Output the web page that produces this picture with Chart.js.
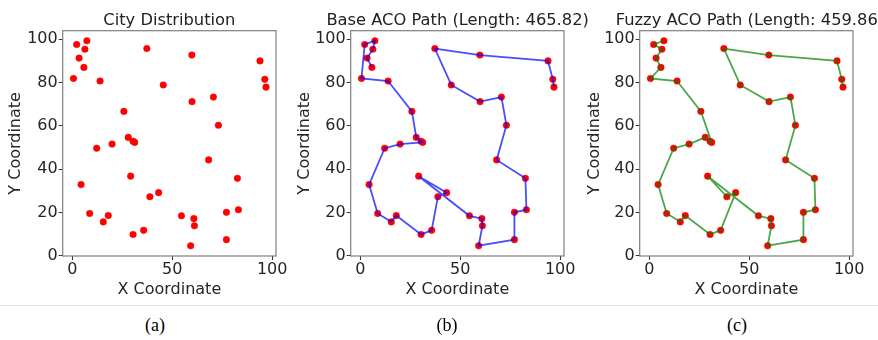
<!DOCTYPE html>
<html><head><meta charset="utf-8">
<script src="https://cdn.jsdelivr.net/npm/chart.js@4/dist/chart.umd.min.js"></script>
<style>
html,body{margin:0;padding:0;background:#fff;overflow:hidden;}
#fig{position:relative;width:878px;height:340px;overflow:hidden;background:#fff;}
#fig canvas{position:absolute;top:0;}
.ttl{position:absolute;top:11.5px;font-family:"DejaVu Sans";font-size:16.3px;line-height:16px;color:#222;white-space:nowrap;transform:translateX(-50%);z-index:2;}
.cap{position:absolute;top:316px;font-family:"Liberation Serif";font-size:18px;line-height:18px;color:#000;transform:translateX(-50%);}
#sep{position:absolute;left:0;width:878px;top:305px;height:1px;background:#e6e6e6;}
</style></head>
<body><div id="fig">
<canvas id="c0" width="290" height="300"></canvas>
<canvas id="c1" width="290" height="300"></canvas>
<canvas id="c2" width="290" height="300"></canvas>
<div id="sep"></div>
</div>
<script>
// ---- data ----
const cityX = [2.2, 7.3, 6.3, 3.4, 5.8, 0.6, 13.9, 37.3, 59.8, 93.9,
               96.3, 96.9, 45.5, 59.9, 70.6, 73.1, 25.8, 28.0, 30.4, 31.2,
               19.9, 12.2, 68.2, 82.6, 29.2, 4.4, 38.8, 43.2, 8.7, 18.0,
               15.5, 54.6, 60.8, 61.1, 77.1, 83.1, 30.4, 35.7, 59.2, 77.1];
const cityY = [97.5, 99.2, 95.3, 91.2, 86.9, 81.8, 80.6, 95.6, 92.6, 89.9,
               81.4, 77.8, 78.8, 71.1, 73.2, 60.2, 66.6, 54.6, 52.8, 52.3,
               51.5, 49.6, 44.2, 35.7, 36.7, 32.8, 27.2, 29.1, 19.5, 18.5,
               15.6, 18.4, 17.1, 13.8, 20.0, 21.2, 9.8, 11.7, 4.6, 7.4];
// visiting order (city indices) of each tour
const basePath  = [11,10,9,8,7,12,13,14,15,22,23,35,34,39,38,33,32,31,24,27,26,37,36,29,30,28,25,21,20,19,18,17,16,6,5,0,1,2,3,4];
const fuzzyPath = [11,10,9,8,7,12,13,14,15,22,23,35,34,39,38,33,32,31,24,26,27,37,36,29,30,28,25,21,20,17,18,19,16,6,5,4,3,2,0,1];
const xTicks = [0, 50, 100];
const yTicks = [0, 20, 40, 60, 80, 100];
const panelTitles = ["City Distribution", "Base ACO Path (Length: 465.82)", "Fuzzy ACO Path (Length: 459.86)"];
const captions = ["(a)", "(b)", "(c)"];
const xLabel = "X Coordinate";
const yLabel = "Y Coordinate";

// ---- layout / style ----
const panelLeft = [0, 288.3, 576.6];
const titleShift = [0, 0, 4];
const captionX = [155, 447, 737];
const plotW = 213.3, yAxisW = 62.7, topPad = 30.7, xAxisH = 44;
const FONT = {family: "DejaVu Sans", size: 16};
const TXT = "#262626";

const framePlugin = {
  id: "frame",
  afterDatasetsDraw(chart) {
    const {ctx, chartArea: a} = chart;
    ctx.save();
    ctx.strokeStyle = "#7f7f7f";
    ctx.lineWidth = 1.2;
    ctx.strokeRect(a.left, a.top, a.right - a.left, a.bottom - a.top);
    ctx.restore();
  }
};

function makeChart(k, path, lineColor) {
  const cv = document.getElementById("c" + k);
  cv.style.left = panelLeft[k] + "px";
  const datasets = [];
  if (path) {
    datasets.push({
      data: path.map(i => ({x: cityX[i], y: cityY[i]})),
      showLine: true, borderColor: lineColor, borderWidth: 1.8,
      pointRadius: 0, tension: 0, fill: false
    });
  }
  datasets.push({
    data: cityX.map((x, i) => ({x: x, y: cityY[i]})),
    backgroundColor: "#ff0000", borderColor: "rgba(255,0,0,0.45)",
    borderWidth: 1, pointRadius: 3.3
  });
  new Chart(cv, {
    type: "scatter",
    data: {datasets},
    plugins: [framePlugin],
    options: {
      responsive: false, animation: false, devicePixelRatio: 1,
      layout: {padding: {left: 0, right: 290 - yAxisW - plotW, top: topPad, bottom: 0}},
      plugins: {legend: {display: false}, tooltip: {enabled: false}, title: {display: false}},
      scales: {
        x: {
          type: "linear", position: "bottom", min: -4.8, max: 101.9,
          afterBuildTicks: s => { s.ticks = xTicks.map(v => ({value: v})); },
          afterFit: s => { s.height = xAxisH; },
          grid: {display: true, drawOnChartArea: false, drawTicks: true, tickLength: 4, tickColor: "#333", tickWidth: 1},
          border: {display: false},
          ticks: {font: FONT, color: TXT, padding: 0, maxRotation: 0, autoSkip: false},
          title: {display: true, text: xLabel, font: FONT, color: TXT, padding: {top: 0, bottom: 0.5}}
        },
        y: {
          type: "linear", position: "left", min: -0.15, max: 103.85,
          afterBuildTicks: s => { s.ticks = yTicks.map(v => ({value: v})); },
          afterFit: s => { s.width = yAxisW; },
          grid: {display: true, drawOnChartArea: false, drawTicks: true, tickLength: 4, tickColor: "#333", tickWidth: 1},
          border: {display: false},
          ticks: {font: FONT, color: TXT, padding: 1, autoSkip: false},
          title: {display: true, text: yLabel, font: FONT, color: TXT, padding: {top: 6.5 + k, bottom: 0}}
        }
      }
    }
  });
  const t = document.createElement("div");
  t.className = "ttl";
  t.textContent = panelTitles[k];
  t.style.left = (panelLeft[k] + yAxisW + plotW / 2 + titleShift[k]) + "px";
  document.getElementById("fig").appendChild(t);
  const c = document.createElement("div");
  c.className = "cap";
  c.textContent = captions[k];
  c.style.left = captionX[k] + "px";
  document.getElementById("fig").appendChild(c);
}

makeChart(0, null, null);
makeChart(1, basePath, "rgba(0,0,255,0.7)");
makeChart(2, fuzzyPath, "rgba(0,128,0,0.7)");
</script>
</body></html>
